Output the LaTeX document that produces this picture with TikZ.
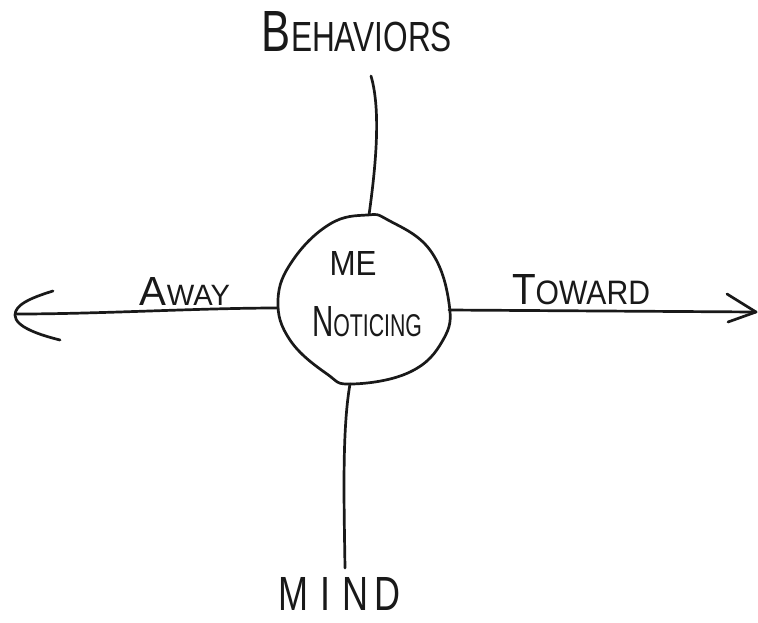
\documentclass[tikz,border=0pt]{standalone}
\usepackage{fontspec}
\setmainfont{Liberation Sans}
\usepackage{graphicx}
\begin{document}
\begin{tikzpicture}[x=1pt,y=-1pt,
  ink/.style={line width=2.7pt, line cap=round, line join=round, black!90},
  lbl/.style={inner sep=0pt, black!90}]
\useasboundingbox (0,0) rectangle (758,622);
\fill[white] (0,0) rectangle (758,622);
% labels
\node[lbl] (beh) at (357,32) {\resizebox{190pt}{40pt}{\fontsize{40}{40}\selectfont B\fontsize{29}{29}\selectfont EHAVIORS}};
\node[lbl] (metxt) at (353,263) {\resizebox{47pt}{24pt}{ME}};
\node[lbl] (noticing) at (367,322) {\resizebox{110pt}{30pt}{\fontsize{36}{36}\selectfont N\fontsize{26}{26}\selectfont OTICING}};
\node[lbl] (away) at (185,291) {\resizebox{90pt}{28pt}{\fontsize{36}{36}\selectfont A\fontsize{26}{26}\selectfont WAY}};
\node[lbl] (toward) at (581,290) {\resizebox{138pt}{30pt}{\fontsize{36}{36}\selectfont T\fontsize{28}{28}\selectfont OWARD}};
\node[lbl] (mind) at (340,594) {\resizebox{122pt}{33pt}{M\,\,I\,\,N\,D}};
% the blob round "me noticing"
\draw[ink] plot[smooth cycle, tension=0.7] coordinates {(367,215) (388,220) (430,250) (449,303) (443,340) (410,372) (352,384) (327,374) (290,340) (278,300) (293,260) (330,224)};
\coordinate (mN) at (369,215);
\coordinate (mS) at (350,384);
\coordinate (mW) at (278,308);
\coordinate (mE) at (449,310);
\coordinate (bT) at (371,76);
\coordinate (mB) at (345,568);
\coordinate (lt) at (17,314);
\coordinate (rt) at (756,312);
% connectors
\draw[ink] (bT) .. controls (381,110) and (376,165) .. (mN);
\draw[ink] (mS) .. controls (342,430) and (344,500) .. (mB);
\draw[ink] (mW) .. controls (200,308) and (100,314) .. (lt);
\draw[ink] (mE) -- (rt);
% arrow heads
\draw[ink] (53,291) .. controls (30,298) and (15,305) .. (15,315) .. controls (15,327) and (40,335) .. (60,340);
\draw[ink] (727,294) -- (rt) -- (728,322);
\end{tikzpicture}
\end{document}
